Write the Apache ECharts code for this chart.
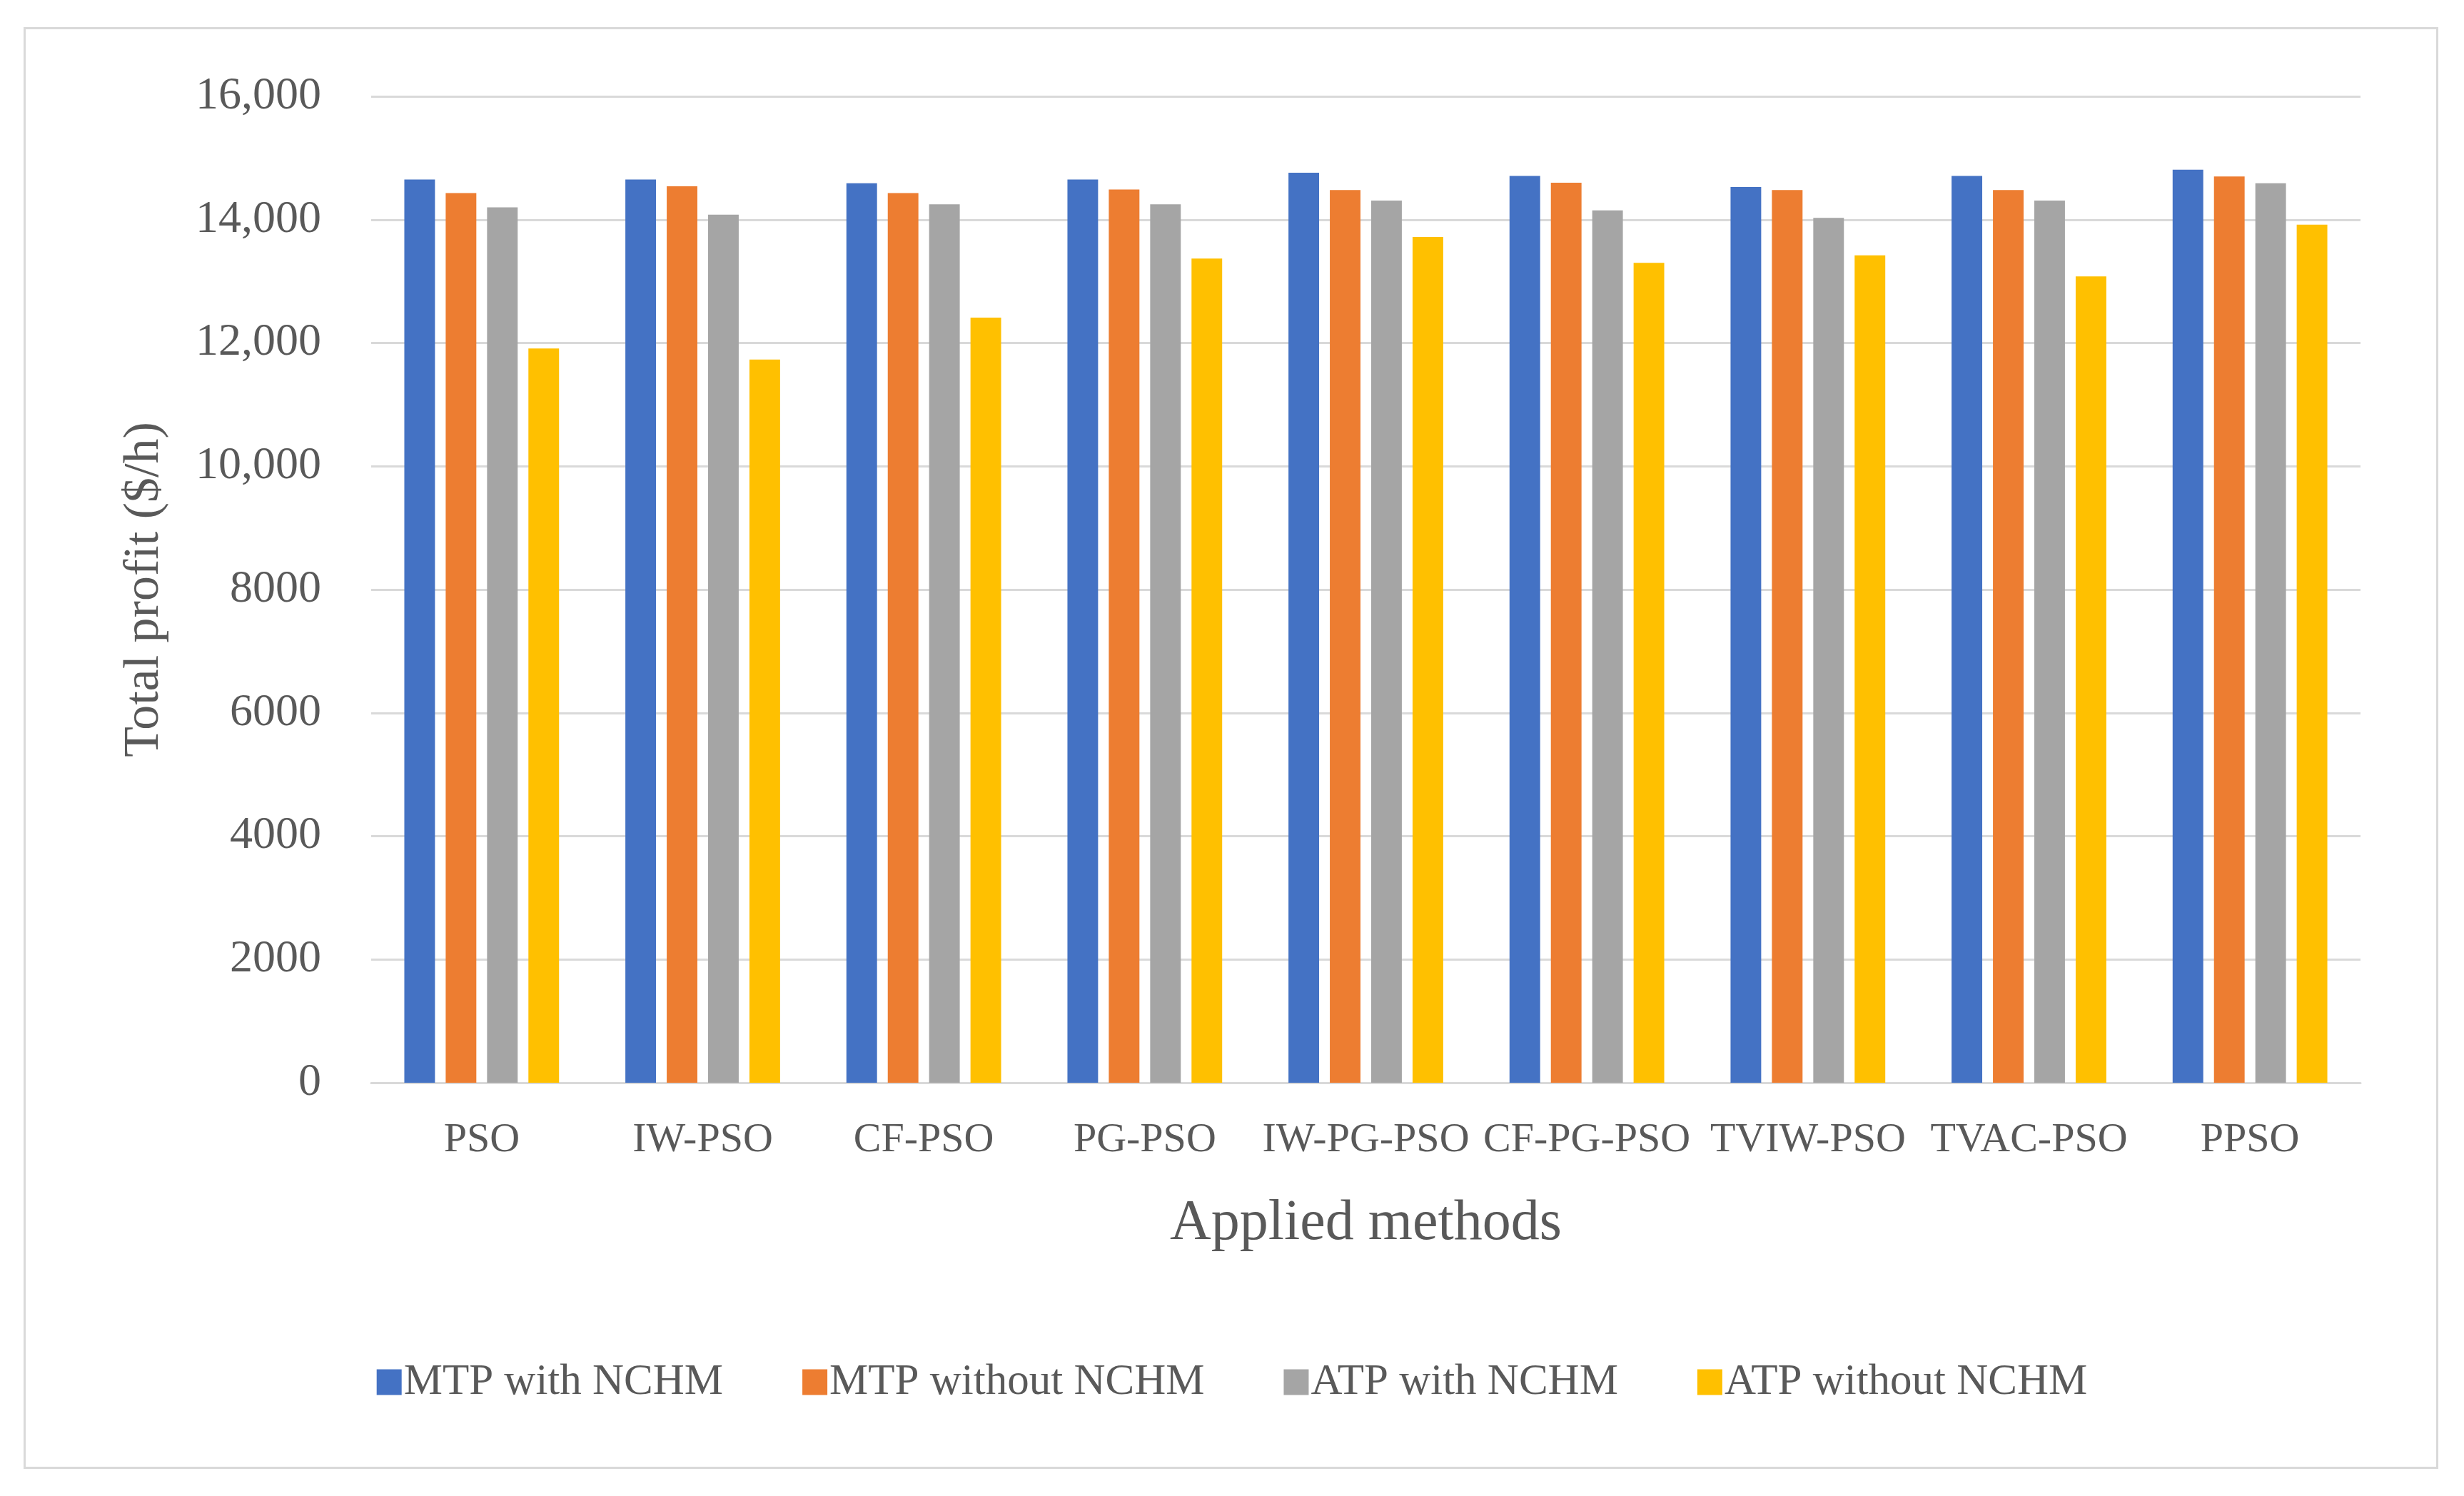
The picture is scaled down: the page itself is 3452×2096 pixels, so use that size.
<!DOCTYPE html>
<html>
<head>
<meta charset="utf-8">
<script src="https://cdn.jsdelivr.net/npm/echarts@6/dist/echarts.min.js"></script>
<style>
html,body{margin:0;padding:0;background:#fff;}
#chart{width:3452px;height:2096px;}
</style>
</head>
<body>
<div id="chart"></div>
<script>
const categories = ['PSO','IW-PSO','CF-PSO','PG-PSO','IW-PG-PSO','CF-PG-PSO','TVIW-PSO','TVAC-PSO','PPSO'];
const seriesNames = ['MTP with NCHM','MTP without NCHM','ATP with NCHM','ATP without NCHM'];
const mtpWith = [14650, 14650, 14590, 14650, 14760, 14710, 14530, 14710, 14810];
const mtpWithout = [14430, 14540, 14430, 14490, 14480, 14600, 14480, 14480, 14700];
const atpWith = [14200, 14080, 14250, 14250, 14310, 14150, 14030, 14310, 14590];
const atpWithout = [11910, 11730, 12410, 13370, 13720, 13300, 13420, 13080, 13920];
const yTicks = [0, 2000, 4000, 6000, 8000, 10000, 12000, 14000, 16000];
const yTickLabels = ['0','2000','4000','6000','8000','10,000','12,000','14,000','16,000'];

const colors = ['#4472C4','#ED7D31','#A5A5A5','#FFC000'];
const FONT = 'Liberation Serif';
const TXT = '#595959';
const GRIDC = '#D9D9D9';

const chart = echarts.init(document.getElementById('chart'), null, {renderer:'canvas'});
const values = [mtpWith, mtpWithout, atpWith, atpWithout];

chart.setOption({
  backgroundColor:'#ffffff',
  animation:false,
  color: colors,
  graphic:[{
    type:'rect', left:32, top:37,
    shape:{width:3380, height:2017},
    style:{fill:'none', stroke:GRIDC, lineWidth:3},
    silent:true, z:-1
  }],
  grid:{left:520, right:145, top:135, bottom:579},
  legend:{
    data: seriesNames,
    left:'center', top:1901,
    itemWidth:35, itemHeight:36, itemGap:111,
    icon:'rect',
    textStyle:{fontFamily:FONT, fontSize:61, color:TXT, padding:[0,0,0,-2]}
  },
  xAxis:{
    type:'category',
    data: categories,
    name:'Applied methods',
    nameLocation:'middle',
    nameGap:158,
    nameTextStyle:{fontFamily:FONT, fontSize:80, color:TXT},
    axisLine:{show:true, lineStyle:{color:GRIDC, width:3}},
    axisTick:{show:false},
    axisLabel:{fontFamily:FONT, fontSize:58, color:TXT, margin:52, interval:0}
  },
  yAxis:{
    type:'value',
    min:yTicks[0], max:yTicks[yTicks.length-1], interval:2000,
    name:'Total profit ($/h)',
    nameLocation:'middle',
    nameGap:282,
    nameTextStyle:{fontFamily:FONT, fontSize:70, color:TXT},
    axisLine:{show:false},
    axisTick:{show:false},
    splitLine:{lineStyle:{color:GRIDC, width:3}},
    axisLabel:{
      fontFamily:FONT, fontSize:64, color:TXT, margin:70,
      formatter: function(v){ const i = yTicks.indexOf(v); return i>=0 ? yTickLabels[i] : String(v); }
    }
  },
  series: seriesNames.map((n,i)=>({
    name:n, type:'bar', data: values[i],
    barGap:'35%', barCategoryGap:'30%',
    itemStyle:{color:colors[i]}
  }))
});
</script>
</body>
</html>
